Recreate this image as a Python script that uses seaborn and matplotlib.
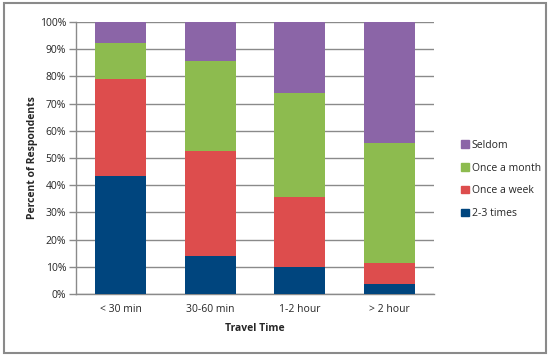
import matplotlib
matplotlib.use("Agg")
from matplotlib import pyplot as plt
from matplotlib.patches import Rectangle, Patch
from matplotlib.ticker import PercentFormatter
import numpy as np
import pandas as pd
import seaborn as sns

categories = ["< 30 min", "30-60 min", "1-2 hour", "> 2 hour"]
times_2_3 = [43.4, 14.0, 10.0, 3.6]
once_week = [35.8, 38.7, 25.5, 7.7]
once_month = [13.0, 32.8, 38.5, 44.3]
seldom = [7.8, 14.5, 26.0, 44.4]

series = ["2-3 times", "Once a week", "Once a month", "Seldom"]
colors = ["#00457e", "#dd4d4d", "#8dbb4f", "#8b65a7"]

sns.set_style("white")
plt.rcParams["font.family"] = ["Open Sans", "DejaVu Sans"]

fig = plt.figure(figsize=(5.5, 3.59), dpi=100)
ax = fig.add_axes([0.138, 0.181, 0.651, 0.758])

# stack by overlaying cumulative totals, tallest first
vals = np.array([times_2_3, once_week, once_month, seldom])
cum = np.cumsum(vals, axis=0)
for i in range(len(series) - 1, -1, -1):
    df = pd.DataFrame({"cat": categories, "val": cum[i]})
    sns.barplot(data=df, x="cat", y="val", color=colors[i], width=0.57,
                saturation=1, ax=ax, zorder=3, linewidth=0)

ax.set_ylim(0, 100)
ax.set_yticks(np.arange(0, 101, 10))
ax.yaxis.set_major_formatter(PercentFormatter(decimals=0))
ax.grid(axis="y", color="#8a8a8a", linewidth=1, zorder=0)
ax.set_xlim(-0.5, 3.5)
for s in ["top", "right"]:
    ax.spines[s].set_visible(False)
for s in ["left", "bottom"]:
    ax.spines[s].set_color("#8a8a8a")
    ax.spines[s].set_linewidth(1)
ax.tick_params(axis="y", length=5, color="#8a8a8a", width=1, labelsize=7.5, pad=2, left=True)
ax.tick_params(axis="x", length=0, labelsize=7.5, pad=7)
ax.set_xlabel("Travel Time", fontsize=7.5, fontweight="bold", labelpad=6)
ax.set_ylabel("Percent of Respondents", fontsize=7.5, fontweight="bold", labelpad=1)

handles = [Patch(color=colors[i], label=series[i]) for i in range(len(series) - 1, -1, -1)]
fig.legend(handles=handles, loc="center left", bbox_to_anchor=(0.822, 0.5),
           frameon=False, fontsize=7.5, handlelength=0.7, handleheight=0.7,
           handletextpad=0.3, labelspacing=1.15)

fig.patches.append(Rectangle((0.008, 0.017), 0.984, 0.975, transform=fig.transFigure,
                             fill=False, edgecolor="#8a8a8a", linewidth=1.5))

fig.savefig("out.png", dpi=100)
